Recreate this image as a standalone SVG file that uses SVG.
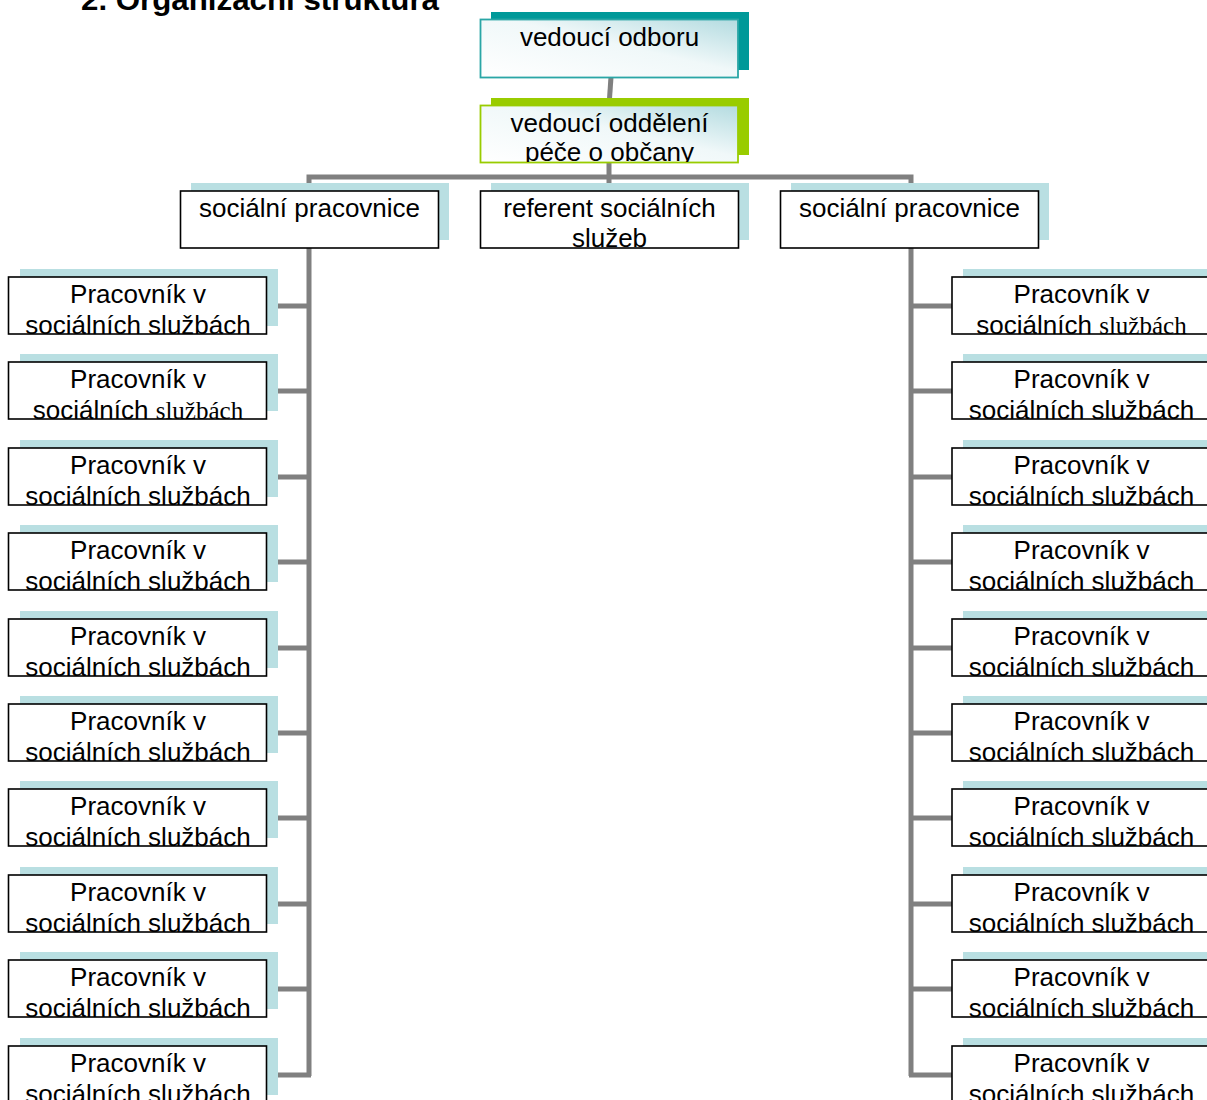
<svg xmlns="http://www.w3.org/2000/svg" width="1207" height="1100" viewBox="0 0 1207 1100">
<defs>
<linearGradient id="gf" x1="0" y1="1" x2="1" y2="0">
<stop offset="0" stop-color="#ffffff"/>
<stop offset="0.55" stop-color="#f0f8f9"/>
<stop offset="1" stop-color="#b3dbe0"/>
</linearGradient>
</defs>
<style>
text{font-family:"Liberation Sans",Arial,sans-serif;font-size:26px;fill:#000;text-anchor:middle}
.title{font-weight:bold;font-size:30px;text-anchor:start}
.sr{font-family:"Liberation Serif","Times New Roman",serif;font-size:25px}
.sh{fill:#b9dfe2}
.bx{fill:#fff;stroke:#000;stroke-width:1.6}
.cn{stroke:#808080;stroke-width:5;fill:none}
</style>
<rect width="1207" height="1100" fill="#fff"/>
<text class="title" x="81" y="10" textLength="358" lengthAdjust="spacingAndGlyphs">2. Organizační struktura</text>

<g id="connectors">
<line class="cn" x1="611" y1="77" x2="609" y2="106"/>
<line class="cn" x1="609" y1="162" x2="609" y2="191"/>
<polyline class="cn" points="309,191 309,177 911,177 911,191"/>
<line class="cn" x1="309" y1="248" x2="309" y2="1076"/>
<line class="cn" x1="911" y1="248" x2="911" y2="1076"/>
<path class="cn" d="M267 306H311M267 391H311M267 477H311M267 562H311M267 648H311M267 733H311M267 818H311M267 904H311M267 989H311M267 1075H311"/>
<path class="cn" d="M909 306H952M909 391H952M909 477H952M909 562H952M909 648H952M909 733H952M909 818H952M909 904H952M909 989H952M909 1075H952"/>
</g>

<g id="n-vedouci-odboru">
<rect x="491" y="12" width="258" height="58" fill="#009999"/>
<rect x="480.5" y="19.5" width="257.5" height="58" fill="url(#gf)" stroke="#2aa6a6" stroke-width="1.8"/>
<svg x="481" y="20" width="257" height="57"><text x="128.5" y="26">vedoucí odboru</text></svg>
</g>
<g id="n-vedouci-oddeleni">
<rect x="491" y="98" width="258" height="57" fill="#99cc00"/>
<rect x="480.5" y="105.5" width="257.5" height="57" fill="url(#gf)" stroke="#99cc00" stroke-width="1.8"/>
<svg x="481" y="106" width="257" height="56"><text x="128.5" y="26">vedoucí oddělení</text><text x="128.5" y="55">péče o občany</text></svg>
</g>

<g id="n-soc-prac-l">
<rect class="sh" x="191" y="183" width="258" height="57"/>
<rect class="bx" x="180.5" y="191" width="258" height="57"/>
<svg x="181" y="191" width="257" height="57"><text x="128.5" y="26">sociální pracovnice</text></svg>
</g>
<g id="n-referent">
<rect class="sh" x="491" y="183" width="258" height="57"/>
<rect class="bx" x="480.5" y="191" width="258" height="57"/>
<svg x="481" y="191" width="257" height="57"><text x="128.5" y="26">referent sociálních</text><text x="128.5" y="56">služeb</text></svg>
</g>
<g id="n-soc-prac-r">
<rect class="sh" x="791" y="183" width="258" height="57"/>
<rect class="bx" x="780.5" y="191" width="258" height="57"/>
<svg x="781" y="191" width="257" height="57"><text x="128.5" y="26">sociální pracovnice</text></svg>
</g>

<g id="n-l1"><rect class="sh" x="20" y="269" width="258" height="57"/><rect class="bx" x="8.5" y="277" width="258" height="57"/><svg x="9" y="277" width="257" height="57"><text x="129" y="26">Pracovník v</text><text x="129" y="57">sociálních službách</text></svg></g>
<g id="n-l2"><rect class="sh" x="20" y="354" width="258" height="57"/><rect class="bx" x="8.5" y="362" width="258" height="57"/><svg x="9" y="362" width="257" height="57"><text x="129" y="26">Pracovník v</text><text x="129" y="57">sociálních <tspan class="sr">službách</tspan></text></svg></g>
<g id="n-l3"><rect class="sh" x="20" y="440" width="258" height="57"/><rect class="bx" x="8.5" y="448" width="258" height="57"/><svg x="9" y="448" width="257" height="57"><text x="129" y="26">Pracovník v</text><text x="129" y="57">sociálních službách</text></svg></g>
<g id="n-l4"><rect class="sh" x="20" y="525" width="258" height="57"/><rect class="bx" x="8.5" y="533" width="258" height="57"/><svg x="9" y="533" width="257" height="57"><text x="129" y="26">Pracovník v</text><text x="129" y="57">sociálních službách</text></svg></g>
<g id="n-l5"><rect class="sh" x="20" y="611" width="258" height="57"/><rect class="bx" x="8.5" y="619" width="258" height="57"/><svg x="9" y="619" width="257" height="57"><text x="129" y="26">Pracovník v</text><text x="129" y="57">sociálních službách</text></svg></g>
<g id="n-l6"><rect class="sh" x="20" y="696" width="258" height="57"/><rect class="bx" x="8.5" y="704" width="258" height="57"/><svg x="9" y="704" width="257" height="57"><text x="129" y="26">Pracovník v</text><text x="129" y="57">sociálních službách</text></svg></g>
<g id="n-l7"><rect class="sh" x="20" y="781" width="258" height="57"/><rect class="bx" x="8.5" y="789" width="258" height="57"/><svg x="9" y="789" width="257" height="57"><text x="129" y="26">Pracovník v</text><text x="129" y="57">sociálních službách</text></svg></g>
<g id="n-l8"><rect class="sh" x="20" y="867" width="258" height="57"/><rect class="bx" x="8.5" y="875" width="258" height="57"/><svg x="9" y="875" width="257" height="57"><text x="129" y="26">Pracovník v</text><text x="129" y="57">sociálních službách</text></svg></g>
<g id="n-l9"><rect class="sh" x="20" y="952" width="258" height="57"/><rect class="bx" x="8.5" y="960" width="258" height="57"/><svg x="9" y="960" width="257" height="57"><text x="129" y="26">Pracovník v</text><text x="129" y="57">sociálních službách</text></svg></g>
<g id="n-l10"><rect class="sh" x="20" y="1038" width="258" height="57"/><rect class="bx" x="8.5" y="1046" width="258" height="57"/><svg x="9" y="1046" width="257" height="57"><text x="129" y="26">Pracovník v</text><text x="129" y="57">sociálních službách</text></svg></g>

<g id="n-r1"><rect class="sh" x="963" y="269" width="258" height="57"/><rect class="bx" x="952" y="277" width="258" height="57"/><svg x="952.5" y="277" width="257" height="57"><text x="129" y="26">Pracovník v</text><text x="129" y="57">sociálních <tspan class="sr">službách</tspan></text></svg></g>
<g id="n-r2"><rect class="sh" x="963" y="354" width="258" height="57"/><rect class="bx" x="952" y="362" width="258" height="57"/><svg x="952.5" y="362" width="257" height="57"><text x="129" y="26">Pracovník v</text><text x="129" y="57">sociálních službách</text></svg></g>
<g id="n-r3"><rect class="sh" x="963" y="440" width="258" height="57"/><rect class="bx" x="952" y="448" width="258" height="57"/><svg x="952.5" y="448" width="257" height="57"><text x="129" y="26">Pracovník v</text><text x="129" y="57">sociálních službách</text></svg></g>
<g id="n-r4"><rect class="sh" x="963" y="525" width="258" height="57"/><rect class="bx" x="952" y="533" width="258" height="57"/><svg x="952.5" y="533" width="257" height="57"><text x="129" y="26">Pracovník v</text><text x="129" y="57">sociálních službách</text></svg></g>
<g id="n-r5"><rect class="sh" x="963" y="611" width="258" height="57"/><rect class="bx" x="952" y="619" width="258" height="57"/><svg x="952.5" y="619" width="257" height="57"><text x="129" y="26">Pracovník v</text><text x="129" y="57">sociálních službách</text></svg></g>
<g id="n-r6"><rect class="sh" x="963" y="696" width="258" height="57"/><rect class="bx" x="952" y="704" width="258" height="57"/><svg x="952.5" y="704" width="257" height="57"><text x="129" y="26">Pracovník v</text><text x="129" y="57">sociálních službách</text></svg></g>
<g id="n-r7"><rect class="sh" x="963" y="781" width="258" height="57"/><rect class="bx" x="952" y="789" width="258" height="57"/><svg x="952.5" y="789" width="257" height="57"><text x="129" y="26">Pracovník v</text><text x="129" y="57">sociálních službách</text></svg></g>
<g id="n-r8"><rect class="sh" x="963" y="867" width="258" height="57"/><rect class="bx" x="952" y="875" width="258" height="57"/><svg x="952.5" y="875" width="257" height="57"><text x="129" y="26">Pracovník v</text><text x="129" y="57">sociálních službách</text></svg></g>
<g id="n-r9"><rect class="sh" x="963" y="952" width="258" height="57"/><rect class="bx" x="952" y="960" width="258" height="57"/><svg x="952.5" y="960" width="257" height="57"><text x="129" y="26">Pracovník v</text><text x="129" y="57">sociálních službách</text></svg></g>
<g id="n-r10"><rect class="sh" x="963" y="1038" width="258" height="57"/><rect class="bx" x="952" y="1046" width="258" height="57"/><svg x="952.5" y="1046" width="257" height="57"><text x="129" y="26">Pracovník v</text><text x="129" y="57">sociálních službách</text></svg></g>
</svg>
